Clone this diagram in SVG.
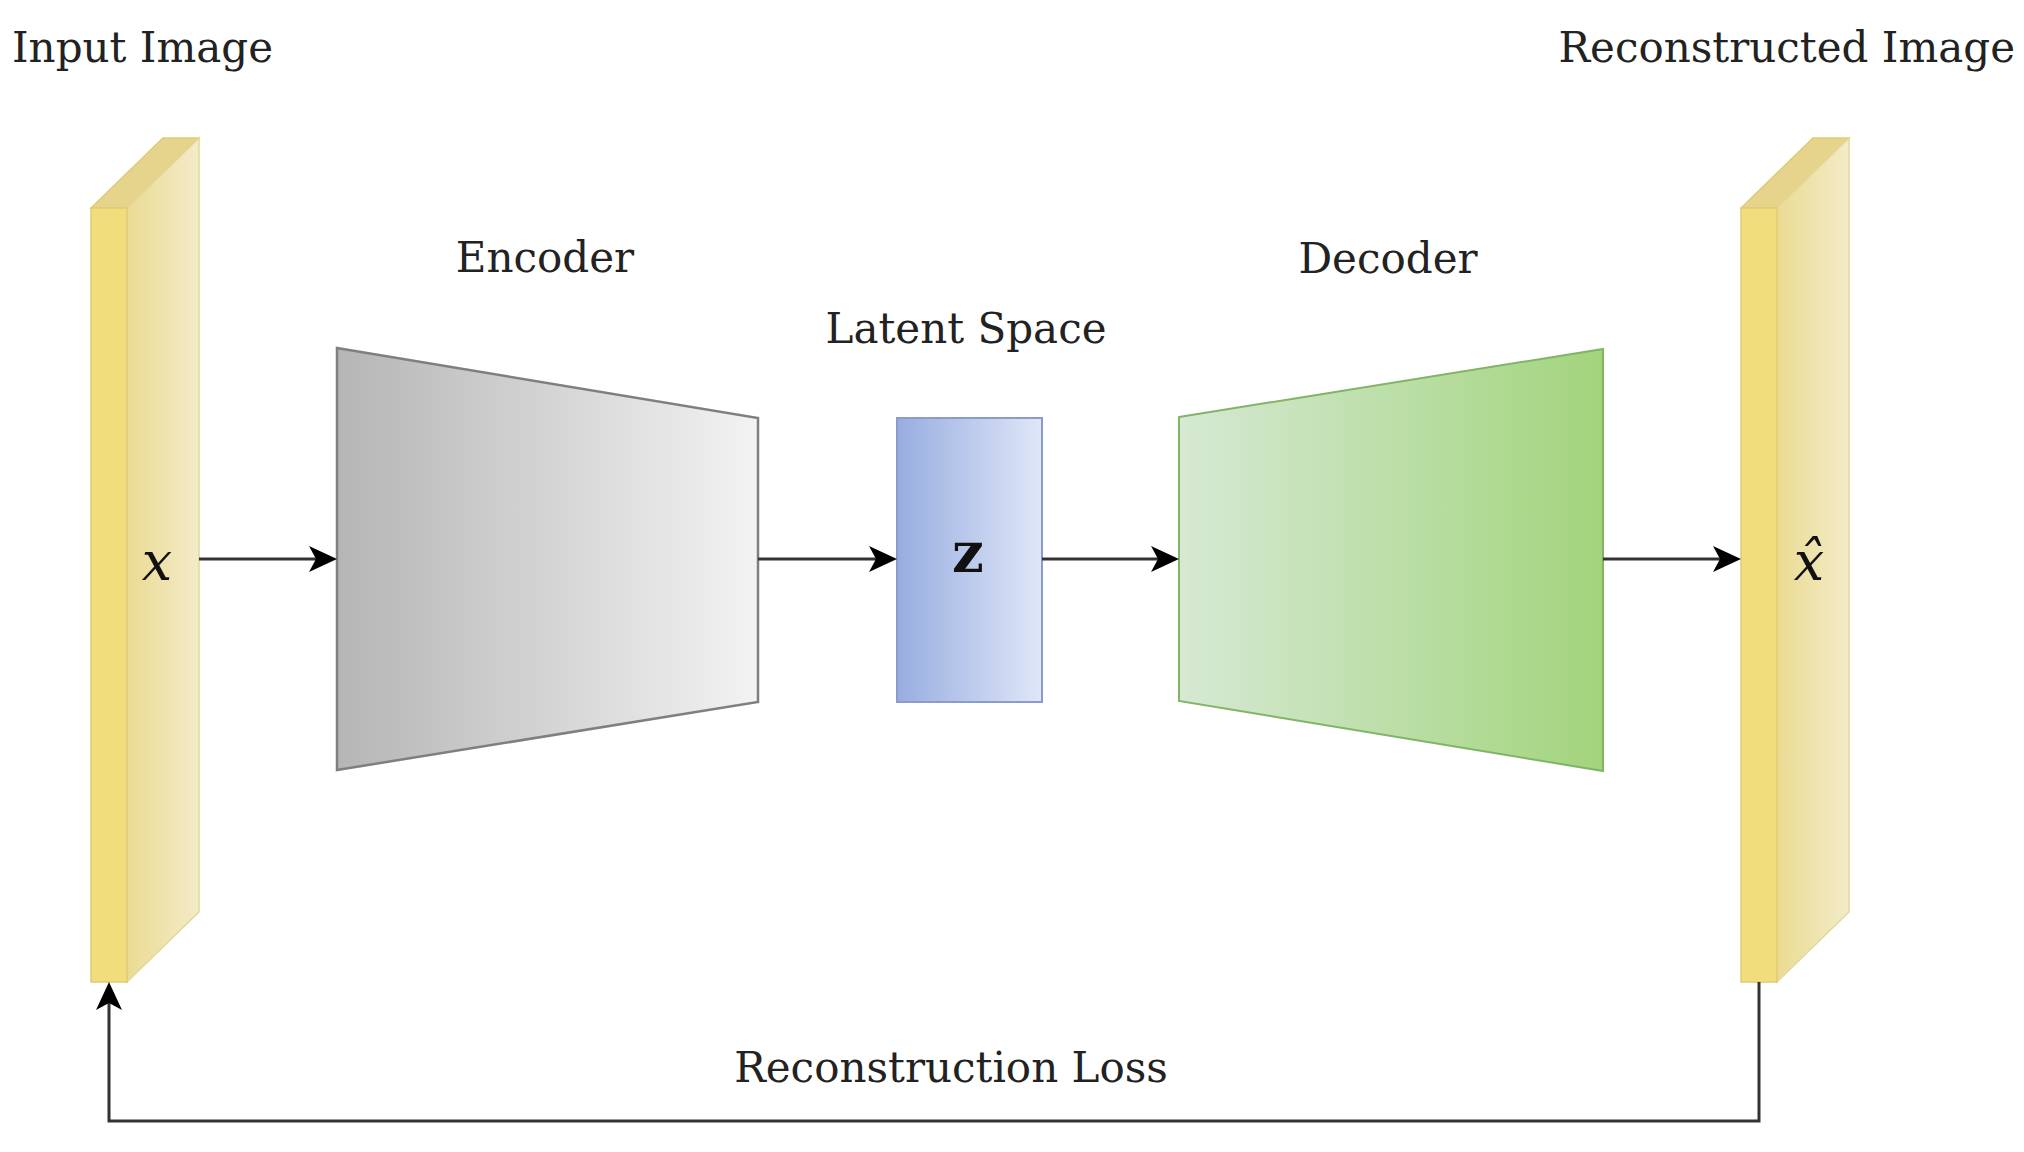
<svg xmlns="http://www.w3.org/2000/svg" width="2024" height="1152" viewBox="0 0 2024 1152">
<defs>
<linearGradient id="gEnc" x1="0" y1="0" x2="1" y2="0"><stop offset="0" stop-color="#b5b5b5"/><stop offset="1" stop-color="#f3f3f3"/></linearGradient>
<linearGradient id="gZ" x1="0" y1="0" x2="1" y2="0"><stop offset="0" stop-color="#98ade0"/><stop offset="1" stop-color="#dfe7f8"/></linearGradient>
<linearGradient id="gDec" x1="0" y1="0" x2="1" y2="0"><stop offset="0" stop-color="#d6e9d4"/><stop offset="1" stop-color="#a2d47c"/></linearGradient>
<linearGradient id="gSide" x1="0" y1="0" x2="1" y2="0"><stop offset="0" stop-color="#eadb92"/><stop offset="1" stop-color="#f3ebc9"/></linearGradient>
<marker id="arr" markerUnits="userSpaceOnUse" markerWidth="30" markerHeight="30" viewBox="0 -15 30 30" refX="7" refY="0" orient="auto">
<path d="M0,-13 L28,0 L0,13 L7,0 Z" fill="#000"/>
</marker>
<style>
.lbl{font-family:"DejaVu Serif","Liberation Serif",serif;font-size:42px;fill:#222}
.math{font-family:"DejaVu Serif","Liberation Serif",serif;font-style:italic;font-size:54px;fill:#111}
.conn{fill:none;stroke:#333;stroke-width:3}
.front{fill:#f2dd7c;stroke:#e0cb74;stroke-width:1.5}
.top{fill:#e6d48d;stroke:#e0cb74;stroke-width:1.5}
.side{fill:url(#gSide);stroke:#e6d69a;stroke-width:1.5}
</style>
</defs>
<rect width="2024" height="1152" fill="#fff"/>
<text class="lbl" x="12" y="62">Input Image</text>
<text class="lbl" x="2015" y="62" text-anchor="end">Reconstructed Image</text>
<g id="input">
<polygon class="top" points="91,208 163,138 199,138 127,208"/>
<polygon class="side" points="127,208 199,138 199,912 127,982"/>
<rect class="front" x="91" y="208" width="36" height="774"/>
<text class="math" x="157" y="580" text-anchor="middle">x</text>
</g>
<g id="encoder">
<polygon points="337,348 758,418 758,702 337,770" fill="url(#gEnc)" stroke="#7f7f7f" stroke-width="2.5"/>
<text class="lbl" x="545" y="272" text-anchor="middle">Encoder</text>
</g>
<g id="latent">
<rect x="897" y="418" width="145" height="284" fill="url(#gZ)" stroke="#8a9bcc" stroke-width="2"/>
<text class="lbl" x="966" y="343" text-anchor="middle">Latent Space</text>
<text x="968" y="572" text-anchor="middle" style="font-family:'DejaVu Serif','Liberation Serif',serif;font-weight:bold;font-size:56px;fill:#111">z</text>
</g>
<g id="decoder">
<polygon points="1179,417 1603,349 1603,771 1179,701" fill="url(#gDec)" stroke="#82b366" stroke-width="2"/>
<text class="lbl" x="1388" y="273" text-anchor="middle">Decoder</text>
</g>
<g id="output">
<polygon class="top" points="1741,208 1813,138 1849,138 1777,208"/>
<polygon class="side" points="1777,208 1849,138 1849,912 1777,982"/>
<rect class="front" x="1741" y="208" width="36" height="774"/>
<text class="math" x="1809" y="580" text-anchor="middle">x̂</text>
</g>
<g id="connectors">
<path class="conn" d="M199,559 H316" marker-end="url(#arr)"/>
<path class="conn" d="M758,559 H876" marker-end="url(#arr)"/>
<path class="conn" d="M1042,559 H1158" marker-end="url(#arr)"/>
<path class="conn" d="M1603,559 H1720" marker-end="url(#arr)"/>
<path class="conn" d="M1759,982 V1121 H109 V1003" marker-end="url(#arr)"/>
<text class="lbl" x="951" y="1082" text-anchor="middle">Reconstruction Loss</text>
</g>
</svg>
